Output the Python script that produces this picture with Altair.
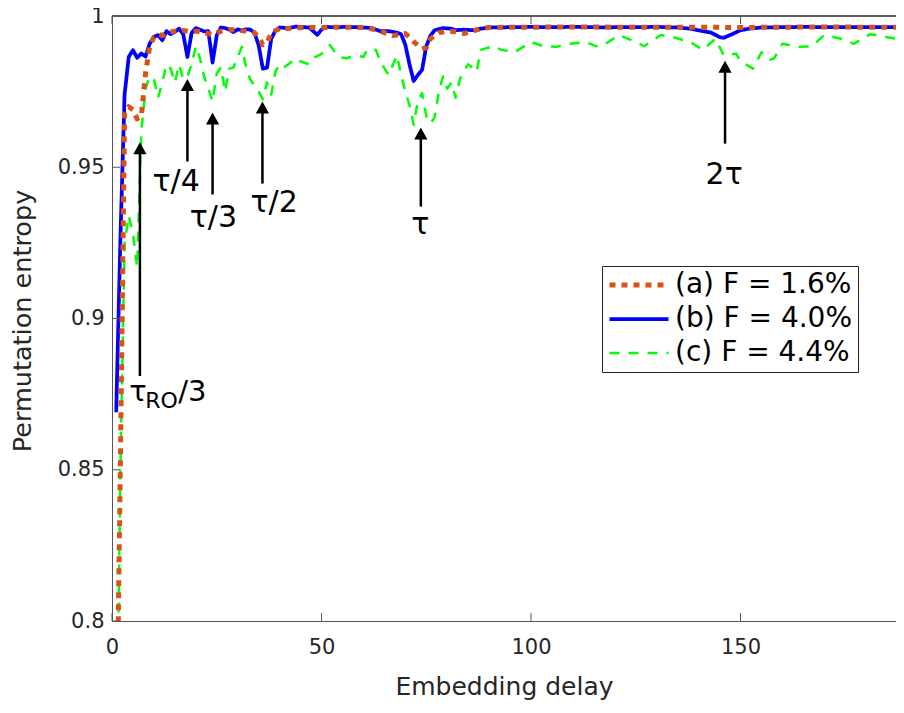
import altair as alt
import pandas as pd

# ---------------- data ----------------
series_names = ["(a) F = 1.6%", "(b) F = 4.0%", "(c) F = 4.4%"]
series_colors = ["#D95319", "#0000FF", "#00FF00"]
series_dashes = [[6, 6], [1, 0], [10, 9]]
series_widths = [5, 2.5, 2.5]

# (a) F = 1.6%  (orange dotted)
a_x = [1, 2, 3, 4, 5, 6, 7, 8, 9, 10, 11, 12, 13, 14, 15, 16, 17, 18, 19, 20, 22, 24, 26, 28, 30,
       32, 34, 35, 36, 37, 38, 40, 43, 46, 50, 55, 60, 63, 65, 67, 69, 70, 72, 74, 75, 76, 78, 80,
       82, 84, 86, 88, 90, 95, 100, 110, 120, 130, 140, 150, 160, 170, 180, 189]
a_y = [0.748, 0.852, 0.968, 0.970, 0.969, 0.966, 0.967, 0.981, 0.990, 0.993, 0.994, 0.9935,
       0.9945, 0.9947, 0.995, 0.9947, 0.9952, 0.995, 0.9948, 0.995, 0.9945, 0.9938, 0.995, 0.9955,
       0.9953, 0.995, 0.9945, 0.993, 0.9905, 0.991, 0.9945, 0.9958, 0.996, 0.9962, 0.9962, 0.9963,
       0.9962, 0.9955, 0.9945, 0.9935, 0.994, 0.9942, 0.9915, 0.9892, 0.9895, 0.9925, 0.9945,
       0.995, 0.9948, 0.9942, 0.995, 0.9958, 0.9962, 0.9963, 0.9963, 0.9964, 0.9963, 0.9963,
       0.9963, 0.9962, 0.9963, 0.9964, 0.9963, 0.9963]

# (b) F = 4.0%  (blue solid)
b_x = [1, 2, 3, 4, 5, 6, 7, 8, 9, 10, 11, 12, 13, 14, 15, 16, 17, 18, 19, 20, 21, 22, 23, 24, 25,
       26, 27, 28, 29, 30, 31, 32, 33, 34, 35, 36, 37, 38, 39, 40, 42, 44, 46, 47, 48, 49, 50, 51,
       53, 56, 59, 62, 64, 66, 68, 69, 70, 71, 72, 73, 74, 75, 76, 77, 79, 81, 82, 84, 86, 88, 90,
       95, 100, 105, 110, 115, 118, 120, 125, 130, 135, 138, 141, 143, 145, 146, 148, 150, 152,
       155, 160, 165, 170, 175, 180, 185, 189]
b_y = [0.869, 0.926, 0.974, 0.9865, 0.9887, 0.9862, 0.9876, 0.9866, 0.9909, 0.9931, 0.9937,
       0.992, 0.995, 0.994, 0.9948, 0.9958, 0.994, 0.9865, 0.9944, 0.996, 0.9955, 0.9949, 0.995,
       0.9846, 0.9936, 0.9962, 0.996, 0.9955, 0.9947, 0.9956, 0.9953, 0.9956, 0.9955, 0.9945,
       0.9903, 0.9826, 0.9829, 0.9925, 0.9951, 0.9962, 0.996, 0.9965, 0.9963, 0.9962, 0.995,
       0.9938, 0.9955, 0.9964, 0.9963, 0.9964, 0.9963, 0.996, 0.995, 0.995, 0.9945, 0.994,
       0.9905, 0.984, 0.9785, 0.9805, 0.9822, 0.990, 0.9935, 0.9953, 0.996, 0.9958, 0.9953,
       0.9955, 0.9953, 0.9958, 0.9962, 0.9963, 0.9964, 0.9963, 0.9964, 0.9963, 0.9962, 0.9963,
       0.9963, 0.9964, 0.9962, 0.9958, 0.995, 0.9945, 0.993, 0.9928, 0.994, 0.9953, 0.9958,
       0.9962, 0.9963, 0.9964, 0.9963, 0.9963, 0.9963, 0.9963, 0.9963]

# (c) F = 4.4%  (green dashed)
c_x = [1, 2, 3, 4, 5, 6, 7, 8, 9, 10, 11, 12, 13, 14, 15, 16, 17, 18, 19, 20, 21, 22, 23, 24, 25,
       26, 27, 28, 29, 30, 31, 32, 33, 34, 35, 36, 37, 38, 39, 40, 41, 42, 43, 44, 45, 47, 48, 50,
       52, 54, 56, 58, 60, 61, 63, 64, 66, 68, 69, 70, 71, 72, 73, 74, 75, 76, 77, 78, 79, 80, 81,
       82, 83, 84, 85, 86, 87, 88, 91, 93, 96, 100, 103, 106, 109, 113, 116, 118, 121, 125, 127,
       131, 134, 138, 141, 144, 146, 149, 150, 153, 155, 157, 158, 160, 164, 167, 170, 174, 177,
       181, 185, 189]
c_y = [0.74, 0.85, 0.925, 0.934, 0.928, 0.917, 0.962, 0.976, 0.980, 0.979, 0.973, 0.978, 0.984,
       0.9826, 0.978, 0.984, 0.979, 0.980, 0.984, 0.990, 0.986, 0.980, 0.976, 0.9717, 0.981,
       0.983, 0.975, 0.9826, 0.983, 0.9865, 0.9898, 0.983, 0.979, 0.977, 0.975, 0.9725, 0.978,
       0.974, 0.9816, 0.984, 0.983, 0.984, 0.985, 0.986, 0.985, 0.984, 0.986, 0.9875, 0.9904,
       0.9865, 0.986, 0.987, 0.9865, 0.989, 0.9888, 0.985, 0.9805, 0.987, 0.9805, 0.975, 0.9705,
       0.964, 0.972, 0.9745, 0.967, 0.9645, 0.9665, 0.975, 0.980, 0.976, 0.978, 0.973, 0.979,
       0.982, 0.984, 0.983, 0.9815, 0.9888, 0.990, 0.9888, 0.988, 0.9914, 0.990, 0.9898, 0.9908,
       0.9914, 0.9898, 0.991, 0.9937, 0.9914, 0.990, 0.9937, 0.993, 0.9914, 0.9888, 0.9925,
       0.987, 0.9875, 0.985, 0.9826, 0.988, 0.9855, 0.986, 0.9908, 0.9898, 0.990, 0.9937,
       0.9925, 0.9908, 0.994, 0.993, 0.992]

# annotations (arrows point at delay features)
ann_labels = ["τ/4", "τ/3", "τ/2", "τ", "2τ"]
ann_arrow_x = [18.0, 24.0, 35.9, 73.7, 146.3]
ann_tip = [0.9792, 0.9681, 0.9717, 0.9631, 0.9852]
ann_tail = [0.9519, 0.941, 0.9446, 0.937, 0.9578]
ann_text_x = [15.3, 24.2, 38.7, 73.6, 146.1]
ann_text_y = [0.942, 0.9301, 0.9351, 0.9278, 0.9446]

ro_arrow_x = [6.66]
ro_tip = [0.9583]
ro_tail = [0.881]
ro_text_x = [4.1]
ro_text_y = [0.8728]

x_ticks = [0, 50, 100, 150]
y_ticks = [0.8, 0.85, 0.9, 0.95, 1.0]

# ---------------- build tables ----------------
rows = []
for name, xs_, ys_ in [(series_names[2], c_x, c_y), (series_names[1], b_x, b_y),
                       (series_names[0], a_x, a_y)]:
    for xv, yv in zip(xs_, ys_):
        rows.append({"delay": xv, "pe": yv, "series": name})
df = pd.DataFrame(rows)

arrows = pd.DataFrame({"delay": ann_arrow_x + ro_arrow_x, "pe": ann_tip + ro_tip,
                       "tail": ann_tail + ro_tail})
texts = pd.DataFrame({"delay": ann_text_x, "pe": ann_text_y, "label": ann_labels})
ro_df = pd.DataFrame({"delay": ro_text_x, "pe": ro_text_y})
xt = pd.DataFrame({"delay": x_ticks})
yt = pd.DataFrame({"pe": y_ticks})

W, H = 784, 605
X_MAX = 187.1
FONT = "DejaVu Sans"
AX = "#555555"
TXT = "#262626"

xs = alt.Scale(domain=[0, X_MAX], nice=False, zero=False)
ys = alt.Scale(domain=[0.8, 1.0], nice=False, zero=False)

x_axis = alt.Axis(values=x_ticks, format="d", title="Embedding delay", grid=False,
                  ticks=False, tickSize=0, domainColor=AX, labelColor=TXT, labelFlush=False,
                  labelFont=FONT, labelFontSize=21, labelPadding=15,
                  titleFont=FONT, titleFontSize=25, titleFontWeight="normal",
                  titleColor=TXT, titleY=73, titleBaseline="alphabetic")
y_axis = alt.Axis(values=y_ticks, format="~g", title="Permutation entropy", grid=False,
                  ticks=False, tickSize=0, domainColor=AX, labelColor=TXT, labelFlush=False,
                  labelFont=FONT, labelFontSize=21, labelPadding=8,
                  titleFont=FONT, titleFontSize=25.5, titleFontWeight="normal",
                  titleColor=TXT, titleX=-90, titleY=H / 2 + 2, titleAngle=270,
                  titleBaseline="middle", titleAlign="center")

X = alt.X("delay:Q", scale=xs, axis=x_axis)
Y = alt.Y("pe:Q", scale=ys, axis=y_axis)

leg = alt.Legend(title=None, orient="none", legendX=490, legendY=250)

lines = alt.Chart(df).mark_line(clip=True, strokeCap="butt", strokeJoin="round").encode(
    x=X, y=Y,
    color=alt.Color("series:N", scale=alt.Scale(domain=series_names, range=series_colors),
                    legend=leg),
    strokeDash=alt.StrokeDash("series:N",
                              scale=alt.Scale(domain=series_names, range=series_dashes),
                              legend=leg),
    strokeWidth=alt.StrokeWidth("series:N",
                                scale=alt.Scale(domain=series_names, range=series_widths),
                                legend=leg),
)

top_frame = alt.Chart(xt).mark_rule(color=AX, strokeWidth=1).encode(
    x=alt.value(0), x2=alt.value(W), y=alt.value(0))

xt_bottom = alt.Chart(xt).mark_rule(color=AX, strokeWidth=1).encode(
    x=X, y=alt.value(H), y2=alt.value(H - 8))
xt_top = alt.Chart(xt).mark_rule(color=AX, strokeWidth=1).encode(
    x=X, y=alt.value(0), y2=alt.value(8))
yt_left = alt.Chart(yt).mark_rule(color=AX, strokeWidth=1).encode(
    y=Y, x=alt.value(0), x2=alt.value(8))

shafts = alt.Chart(arrows).mark_rule(color="black", strokeWidth=2.5, y2Offset=6).encode(
    x=X, y=alt.Y("tail:Q", scale=ys, axis=y_axis), y2="pe:Q")
heads = alt.Chart(arrows).mark_point(shape="M0,-1L1.1,1L-1.1,1Z", filled=True, color="black",
                                     opacity=1, size=144, yOffset=6, strokeWidth=0).encode(
    x=X, y=Y)

labels = alt.Chart(texts).mark_text(font=FONT, fontSize=30, color="black", align="center",
                                    baseline="alphabetic").encode(
    x=X, y=Y, text="label:N")

ro_tau = alt.Chart(ro_df).mark_text(font=FONT, fontSize=29, color="black", align="left",
                                    baseline="alphabetic", text="τ").encode(x=X, y=Y)
ro_sub = alt.Chart(ro_df).mark_text(font=FONT, fontSize=22, color="black", align="left",
                                    baseline="alphabetic", text="RO", dx=16, dy=7).encode(
    x=X, y=Y)
ro_rest = alt.Chart(ro_df).mark_text(font=FONT, fontSize=29, color="black", align="left",
                                     baseline="alphabetic", text="/3", dx=49).encode(x=X, y=Y)

chart = alt.layer(
    lines, top_frame, xt_bottom, xt_top, yt_left, shafts, heads, labels, ro_tau, ro_sub, ro_rest
).properties(
    width=W, height=H,
    autosize=alt.AutoSizeParams(type="none"),
    padding={"left": 104, "top": 8, "right": 0, "bottom": 80},
).configure_view(stroke=None).configure_legend(
    symbolType="stroke", symbolSize=3481, labelFont=FONT, labelFontSize=28, labelColor="black",
    labelLimit=400, strokeColor="#262626", fillColor="white", padding=5, rowPadding=6,
    clipHeight=28, labelOffset=4, symbolOffset=0,
)

chart.save("out.html", embed_options={"renderer": "svg", "actions": False})
